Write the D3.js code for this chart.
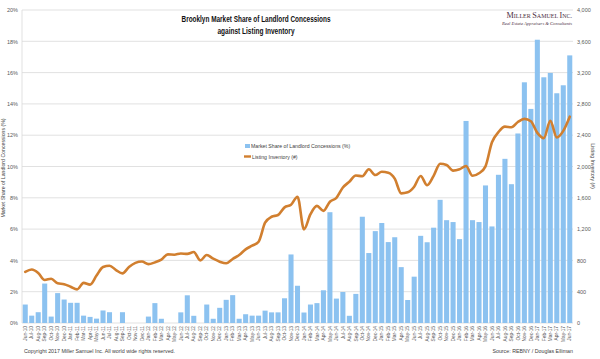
<!DOCTYPE html>
<html>
<head>
<meta charset="utf-8">
<script src="https://cdn.jsdelivr.net/npm/d3@7"></script>
<style>
  html, body { margin: 0; padding: 0; background: #fff; }
  svg { display: block; font-family: "Liberation Sans", Arial, sans-serif; }
</style>
</head>
<body>
<svg id="chart" width="600" height="359"></svg>
<script>
const months = ["Jun-10","Jul-10","Aug-10","Sep-10","Oct-10","Nov-10","Dec-10",
"Jan-11","Feb-11","Mar-11","Apr-11","May-11","Jun-11","Jul-11","Aug-11","Sep-11","Oct-11","Nov-11","Dec-11",
"Jan-12","Feb-12","Mar-12","Apr-12","May-12","Jun-12","Jul-12","Aug-12","Sep-12","Oct-12","Nov-12","Dec-12",
"Jan-13","Feb-13","Mar-13","Apr-13","May-13","Jun-13","Jul-13","Aug-13","Sep-13","Oct-13","Nov-13","Dec-13",
"Jan-14","Feb-14","Mar-14","Apr-14","May-14","Jun-14","Jul-14","Aug-14","Sep-14","Oct-14","Nov-14","Dec-14",
"Jan-15","Feb-15","Mar-15","Apr-15","May-15","Jun-15","Jul-15","Aug-15","Sep-15","Oct-15","Nov-15","Dec-15",
"Jan-16","Feb-16","Mar-16","Apr-16","May-16","Jun-16","Jul-16","Aug-16","Sep-16","Oct-16","Nov-16","Dec-16",
"Jan-17","Feb-17","Mar-17","Apr-17","May-17","Jun-17"];

// Market share of landlord concessions (%)
const concessionShare = [1.18,0.47,0.69,2.52,0.41,1.91,1.5,
1.29,1.29,0.47,0.39,0.28,0.8,0.69,0,0.69,0,0,0,
0.41,1.27,0.27,0,0,0.68,1.77,0.46,0,1.18,0.27,0.97,
1.48,1.78,0.27,0.56,0.47,0.47,0.79,0.68,0.68,1.58,4.38,2.38,
0.67,1.18,1.27,2.09,7.08,1.56,1.98,0.46,1.86,6.79,4.47,5.87,
6.39,5.17,5.48,3.57,1.47,2.96,5.57,5.16,6.09,7.87,6.57,6.45,
5.36,12.91,6.57,6.45,8.79,6.17,9.47,10.49,8.87,12.11,15.38,13.68,
18.1,15.7,15.98,14.68,15.19,17.1];

// Listing inventory (#)
const listingInventory = [652,683,640,550,566,507,496,
464,430,513,490,606,715,732,677,634,715,768,785,
752,775,810,877,873,888,883,907,800,869,822,784,
763,818,869,941,988,1039,1282,1358,1380,1478,1510,1614,
1197,1391,1497,1433,1550,1600,1731,1806,1885,1875,1964,1891,
1932,1921,1845,1657,1670,1742,1879,1760,1880,2035,2019,1947,
1964,2006,1881,1913,2002,2310,2440,2509,2502,2569,2608,2578,
2430,2362,2583,2372,2456,2637];

const leftTicks = [0,2,4,6,8,10,12,14,16,18,20];
const rightTicks = [0,400,800,1200,1600,2000,2400,2800,3200,3600,4000];

const svg = d3.select("#chart");
const m = {left: 22, right: 573, top: 10, bottom: 323};

const x = d3.scaleBand().domain(months).range([m.left, m.right]).paddingInner(0.22).paddingOuter(0.11);
const yL = d3.scaleLinear().domain([0, 20]).range([m.bottom, m.top]);
const yR = d3.scaleLinear().domain([0, 4000]).range([m.bottom, m.top]);

const gridColor = "#d9d9d9";
const tickColor = "#595959";

// gridlines
svg.append("g").selectAll("line").data(leftTicks).join("line")
  .attr("x1", m.left).attr("x2", m.right)
  .attr("y1", d => yL(d)).attr("y2", d => yL(d))
  .attr("stroke", gridColor).attr("stroke-width", 0.8);
// left axis line
svg.append("line").attr("x1", m.left).attr("x2", m.left).attr("y1", m.top).attr("y2", m.bottom)
  .attr("stroke", gridColor).attr("stroke-width", 0.8);

// left axis labels
const axL = d3.axisLeft(yL).tickValues(leftTicks).tickFormat(d => d + "%").tickSize(0).tickPadding(4);
const gL = svg.append("g").attr("transform", `translate(${m.left},0)`).call(axL);
gL.select(".domain").remove();
gL.selectAll("text").attr("font-size", 5.5).attr("fill", tickColor).attr("font-family", "Liberation Sans, Arial, sans-serif");

// right axis labels
const axR = d3.axisRight(yR).tickValues(rightTicks).tickFormat(d3.format(",")).tickSize(0).tickPadding(4);
const gR = svg.append("g").attr("transform", `translate(${m.right},0)`).call(axR);
gR.select(".domain").remove();
gR.selectAll("text").attr("font-size", 5.5).attr("fill", tickColor).attr("font-family", "Liberation Sans, Arial, sans-serif");

// bars
svg.append("g").selectAll("rect").data(months).join("rect")
  .attr("x", d => x(d))
  .attr("width", x.bandwidth())
  .attr("y", (d, i) => yL(concessionShare[i]))
  .attr("height", (d, i) => yL(0) - yL(concessionShare[i]))
  .attr("fill", "#8cc2f0");

// line
const line = d3.line()
  .x((d, i) => x(months[i]) + x.bandwidth() / 2)
  .y(d => yR(d))
  .curve(d3.curveMonotoneX);
svg.append("path").datum(listingInventory)
  .attr("d", line)
  .attr("fill", "none")
  .attr("stroke", "#d17f2f")
  .attr("stroke-width", 2.6)
  .attr("stroke-linejoin", "round")
  .attr("stroke-linecap", "round");

// x axis labels
const axX = d3.axisBottom(x).tickSize(0).tickPadding(0);
const gX = svg.append("g").attr("transform", `translate(0,${m.bottom})`).call(axX);
gX.select(".domain").remove();
gX.selectAll("text")
  .attr("font-size", 4.8).attr("fill", tickColor)
  .attr("text-anchor", "end")
  .attr("dy", "0.35em")
  .attr("transform", "translate(0,3) rotate(-90)")
  .attr("x", 0).attr("y", 0);

// title
const tg = svg.append("g").attr("font-weight", "bold").attr("font-size", 9).attr("fill", "#111")
  .attr("text-anchor", "middle");
tg.append("text").attr("x", 256).attr("y", 22)
  .attr("textLength", 149).attr("lengthAdjust", "spacingAndGlyphs")
  .text("Brooklyn Market Share of Landlord Concessions");
tg.append("text").attr("x", 256).attr("y", 34)
  .attr("textLength", 77).attr("lengthAdjust", "spacingAndGlyphs")
  .text("against Listing Inventory");

// logo
const logo = svg.append("text").attr("x", 572).attr("y", 18).attr("text-anchor", "end")
  .attr("font-family", "Liberation Serif, DejaVu Serif, serif").attr("fill", "#4d2f3f");
[["M",8.2],["ILLER ",6],["S",8.2],["AMUEL ",6],["I",8.2],["NC.",6]].forEach(([t, s]) => {
  logo.append("tspan").attr("font-size", s).text(t);
});
svg.append("text").attr("x", 572).attr("y", 25).attr("text-anchor", "end")
  .attr("font-family", "Liberation Serif, DejaVu Serif, serif").attr("font-style", "italic")
  .attr("font-size", 4.6).attr("fill", "#4d2f3f")
  .text("Real Estate Appraisers & Consultants");

// legend
const lg = svg.append("g").attr("font-size", 5.2).attr("fill", "#404040");
lg.append("rect").attr("x", 245).attr("y", 144).attr("width", 5).attr("height", 4).attr("fill", "#8cc2f0");
lg.append("text").attr("x", 251).attr("y", 148).text("Market Share of Landlord Concessions (%)");
lg.append("line").attr("x1", 244).attr("x2", 251).attr("y1", 156.5).attr("y2", 156.5)
  .attr("stroke", "#d17f2f").attr("stroke-width", 2.4);
lg.append("text").attr("x", 252).attr("y", 158.5).text("Listing Inventory (#)");

// axis titles
svg.append("text").attr("transform", "translate(5,168) rotate(-90)")
  .attr("text-anchor", "middle").attr("font-size", 5.2).attr("fill", "#404040")
  .text("Market Share of Landlord Concessions (%)");
svg.append("text").attr("transform", "translate(591,166) rotate(90)")
  .attr("text-anchor", "middle").attr("font-size", 5.2).attr("fill", "#404040")
  .text("Listing Inventory (#)");

// footer
svg.append("text").attr("x", 24).attr("y", 353).attr("font-size", 5.3).attr("fill", "#404040")
  .text("Copyright 2017 Miller Samuel Inc. All world wide rights reserved.");
svg.append("text").attr("x", 573).attr("y", 353).attr("text-anchor", "end").attr("font-size", 5.3).attr("fill", "#404040")
  .text("Source: REBNY / Douglas Elliman");
</script>
</body>
</html>
